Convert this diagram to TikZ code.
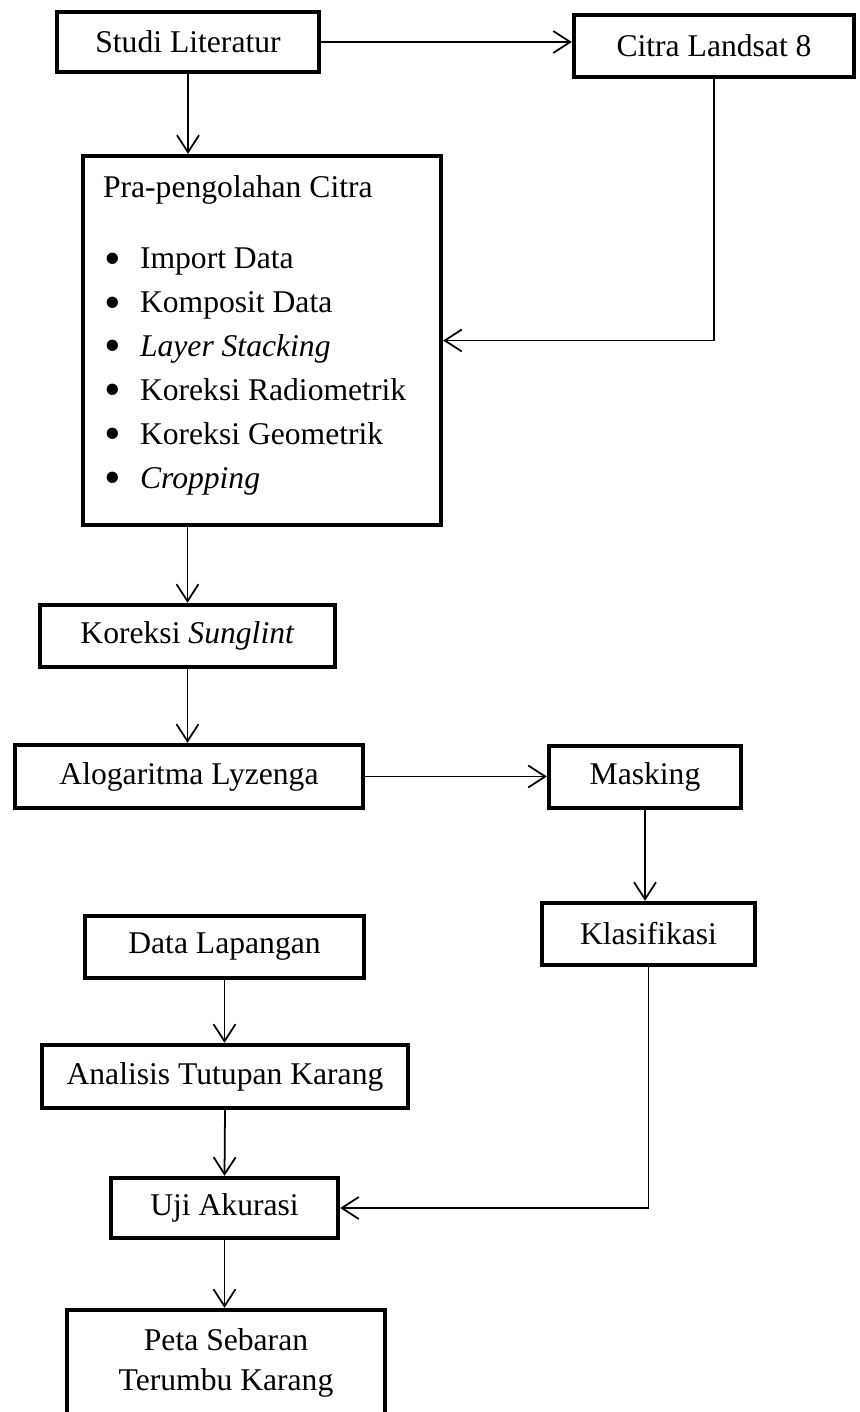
\documentclass[tikz,border=0pt]{standalone}
\usepackage{fontspec}
\setmainfont{Liberation Serif}
\usepackage{tikz}
\usetikzlibrary{arrows.meta}

\newcommand{\titik}{\makebox[0.72cm][l]{\raisebox{-0.18em}{\scalebox{1.5}{\textbullet}}}}

\begin{document}
\begin{tikzpicture}[x=0.02cm,y=-0.02cm,
	kotak/.style={draw,rectangle,line width=2.5pt,inner sep=0pt,minimum height=1.24cm,font=\fontsize{18}{25}\selectfont},
	panah/.style={line width=1pt,-{Straight Barb[length=3.4mm,width=4.4mm]}}]
	% page frame, the last box runs off the bottom
	\clip (0,0) rectangle (859,1412);
	\node[kotak,minimum width=5.24cm,minimum height=1.20cm] (studi) at (188,42) {Studi Literatur};
	\node[kotak,minimum width=5.60cm] (citra) at (714,46) {Citra Landsat 8};
	\node[kotak] (pra) at (262,340.5) {\begin{minipage}[t][7.38cm][t]{7.16cm}
		\hspace*{0.4cm}\rule{0pt}{0.83cm}Pra-pengolahan Citra\\[0.54cm]
		\hspace*{0.42cm}\titik Import Data\\
		\hspace*{0.42cm}\titik Komposit Data\\
		\hspace*{0.42cm}\titik\textit{Layer Stacking}\\
		\hspace*{0.42cm}\titik Koreksi Radiometrik\\
		\hspace*{0.42cm}\titik Koreksi Geometrik\\
		\hspace*{0.42cm}\titik\textit{Cropping}
	\end{minipage}};
	\node[kotak,minimum width=5.90cm] (sunglint) at (187.5,636) {Koreksi \textit{Sunglint}};
	\node[kotak,minimum width=6.96cm,minimum height=1.26cm] (lyzenga) at (189,776.5) {Alogaritma Lyzenga};
	\node[kotak,minimum width=3.84cm] (masking) at (645,777) {Masking};
	\node[kotak,minimum width=4.26cm] (klas) at (648.5,934) {Klasifikasi};
	\node[kotak,minimum width=5.58cm] (data) at (224.5,947) {Data Lapangan};
	\node[kotak,minimum width=7.32cm,minimum height=1.26cm] (analisis) at (225,1076.5) {Analisis Tutupan Karang};
	\node[kotak,minimum width=4.54cm,minimum height=1.20cm] (uji) at (224.5,1208) {Uji Akurasi};
	\node[kotak,minimum width=6.36cm,minimum height=2.12cm,align=center,font=\fontsize{18}{22.7}\selectfont] (peta) at (226,1363) {Peta Sebaran\\Terumbu Karang};
	% connectors
	\draw[panah] (studi.east) -- (studi.east -| citra.west);
	\draw[panah] (studi.south) -- (studi.south |- pra.north);
	\draw[panah] (citra.south) |- (pra.east);
	\draw[panah] (pra.south -| sunglint.north) -- (sunglint.north);
	\draw[panah] (sunglint.south) -- (sunglint.south |- lyzenga.north);
	\draw[panah] (lyzenga.east) -- (lyzenga.east -| masking.west);
	\draw[panah] (masking.south) -- (masking.south |- klas.north);
	\draw[panah] (data.south) -- (data.south |- analisis.north);
	\draw[panah] (analisis.south) -- (uji.north);
	\draw[panah] (klas.south) |- (uji.east);
	\draw[panah] (uji.south) -- (uji.south |- peta.north);
\end{tikzpicture}
\end{document}
